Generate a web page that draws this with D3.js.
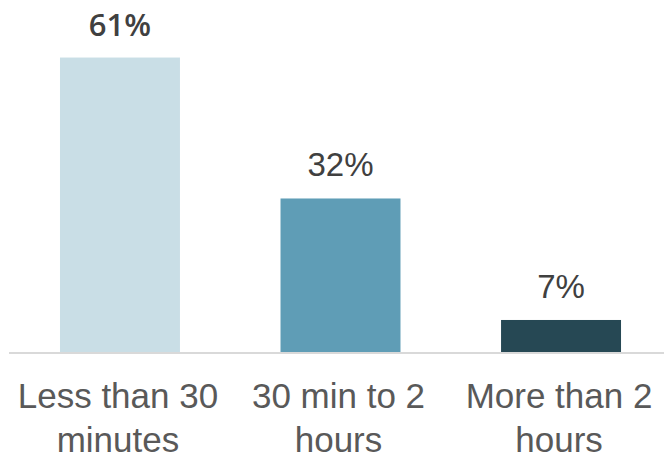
<!DOCTYPE html>
<html>
<head>
<meta charset="utf-8">
<script src="https://cdn.jsdelivr.net/npm/d3@7"></script>
<style>
  html, body { margin: 0; padding: 0; background: #ffffff; }
  svg { display: block; }
</style>
</head>
<body>
<svg id="chart" width="664" height="458"></svg>
<script>
// Time spent, share of respondents (%)
const categories = ["Less than 30 minutes", "30 min to 2 hours", "More than 2 hours"];
const shares = [61, 32, 7];
const valueLabels = ["61%", "32%", "7%"];
const barColors = ["#c9dee6", "#5f9db6", "#264854"];

const width = 664, height = 458;
const svg = d3.select("#chart");

const x = d3.scaleBand()
  .domain(categories)
  .range([9.7, 671.3])
  .paddingInner(0.456)
  .paddingOuter(0.228);

const y = d3.scaleLinear()
  .domain([0, 70])
  .range([354, 13.8]);

const data = categories.map((c, i) => ({ cat: c, v: shares[i], label: valueLabels[i], color: barColors[i] }));
const maxV = d3.max(shares);

// bars
svg.append("g")
  .selectAll("rect")
  .data(data)
  .join("rect")
  .attr("x", d => x(d.cat))
  .attr("y", d => y(d.v))
  .attr("width", x.bandwidth())
  .attr("height", d => y(0) - y(d.v))
  .attr("fill", d => d.color);

// baseline
svg.append("line")
  .attr("x1", 9).attr("x2", width)
  .attr("y1", 353).attr("y2", 353)
  .attr("stroke", "#d9d9d9")
  .attr("stroke-width", 2);

// value labels above bars (largest share emphasised)
svg.append("g")
  .selectAll("text")
  .data(data)
  .join("text")
  .attr("x", d => x(d.cat) + x.bandwidth() / 2)
  .attr("y", d => y(d.v) - 22)
  .attr("text-anchor", "middle")
  .attr("fill", "#404040")
  .style("font-family", d => d.v === maxV ? "'Open Sans', sans-serif" : "'Liberation Sans', Arial, sans-serif")
  .style("font-weight", d => d.v === maxV ? 600 : 400)
  .style("font-size", d => d.v === maxV ? "31px" : "33px")
  .text(d => d.label);

// category labels, wrapped to fit the band step
const maxLineWidth = 212;
const catG = svg.append("g");
data.forEach(d => {
  const t = catG.append("text")
    .attr("text-anchor", "middle")
    .attr("fill", "#595959")
    .style("font-family", "'Liberation Sans', Arial, sans-serif")
    .style("font-size", "35px");
  const cx = x(d.cat) + x.bandwidth() / 2 - 2;
  const words = d.cat.split(" ");
  let lines = [], line = [];
  const probe = t.append("tspan");
  words.forEach(w => {
    const trial = line.concat([w]).join(" ");
    probe.text(trial);
    if (probe.node().getComputedTextLength() > maxLineWidth && line.length) {
      lines.push(line.join(" "));
      line = [w];
    } else {
      line.push(w);
    }
  });
  lines.push(line.join(" "));
  probe.remove();
  lines.forEach((l, i) => {
    t.append("tspan")
      .attr("x", cx)
      .attr("y", 408 + i * 44)
      .text(l);
  });
});
</script>
</body>
</html>
